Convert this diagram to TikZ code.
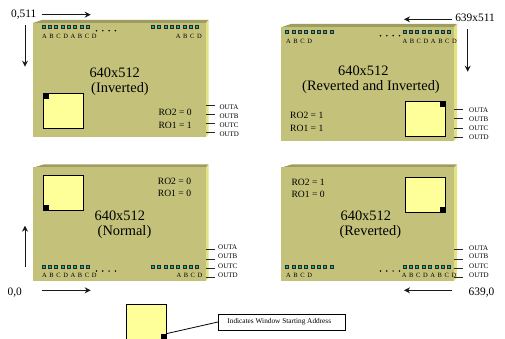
\documentclass[tikz,border=0pt]{standalone}
\usepackage{fontspec}
\setmainfont{Liberation Serif}
\usetikzlibrary{arrows.meta,positioning}

\definecolor{boardc}{HTML}{C4C27A}
\definecolor{topc}{HTML}{9E9C60}
\definecolor{sidec}{HTML}{E2E284}
\definecolor{winc}{HTML}{FFFF99}
\definecolor{padc}{HTML}{1FB595}

\newcommand{\letfont}{\fontsize{6.5}{7}\selectfont\spaceskip 2.6pt\relax}
% row of eight pads, name prefix, first x, y
\newcommand{\padrow}[3]{%
  \foreach \i in {0,...,7}
    \node[padb] (#1\i) at ({#2+6.34*\i},#3) {};}
% four dots, first x, y
\newcommand{\dotrow}[2]{%
  \foreach \i in {0,...,3}
    \fill ({#1+6.3*\i},#2) circle (0.85);}

\begin{document}
\begin{tikzpicture}[
  x=1pt, y=-1pt,
  board/.style={fill=boardc, minimum width=173pt, minimum height=114pt, inner sep=0pt},
  win/.style={draw=black, line width=0.8pt, fill=winc, minimum width=40pt,
              minimum height=35pt, inner sep=0pt},
  winmark/.style={fill=black, minimum size=5.5pt, inner sep=0pt},
  padb/.style={draw=black!85, fill=padc, line width=0.8pt, minimum size=3pt, inner sep=0pt},
  title/.style={font=\fontsize{14.4}{16}\selectfont, text=black, inner sep=0pt},
  rolab/.style={font=\fontsize{9.6}{11}\selectfont, text=black, anchor=west, inner sep=0pt},
  outlab/.style={font=\fontsize{7}{8}\selectfont, text=black, anchor=west, inner sep=0pt},
  letlab/.style={font=\letfont, text=black, anchor=west, inner sep=0pt},
  corner/.style={font=\fontsize{11.4}{13}\selectfont, text=black, inner sep=0pt},
  pin/.style={line width=0.8pt, black!85},
  ar/.style={-{Stealth[length=6pt,width=6pt]}, line width=1pt, black!90}
]
\useasboundingbox (0,0) rectangle (505,339);

% inverted
\fill[topc] (33,23) -- (42,20) -- (208.5,20) -- (206,23) -- cycle;
\fill[sidec] (206,23) -- (208.5,20) -- (208.5,134) -- (206,137) -- cycle;
\node[board] (inv) at (119.5,80) {};
\node[win] (invwin) at (63.2,111.2) {};
\node[winmark, anchor=north west] (invmark) at (invwin.north west) {};
\padrow{inva}{43.5}{27}
\padrow{invb}{153}{27}
\dotrow{96.5}{30.7}
\node[letlab] (invl) at (42,36.7) {A B C D A B C D};
\node[letlab] (invr) at (175.7,36.7) {A B C D};
\node[title] (invt) at (114.7,73) {640x512};
\node[title] (invs) at (120,89) {(Inverted)};
\node[rolab] (invro2) at (158.3,112) {RO2 = 0};
\node[rolab] (invro1) at (158.3,125) {RO1 = 1};

% reverted and inverted
\fill[topc] (281,27.3) -- (291,24) -- (457,24) -- (454,27.3) -- cycle;
\fill[sidec] (454,27.3) -- (457,24) -- (457,138) -- (454,140.7) -- cycle;
\node[board] (rvi) at (367.5,84) {};
\node[win] (rviwin) at (425,118.8) {};
\node[winmark, anchor=north east] (rvimark) at (rviwin.north east) {};
\padrow{rvia}{287.3}{32}
\padrow{rvib}{404.7}{32}
\dotrow{380.5}{35.7}
\node[letlab] (rvil) at (286,41.3) {A B C D};
\node[letlab] (rvir) at (402.3,41.3) {A B C D A B C D};
\node[title] (rvit) at (363.3,71) {640x512};
\node[title] (rvis) at (371,87.3) {(Reverted and Inverted)};
\node[rolab] (rviro2) at (290,115.7) {RO2 = 1};
\node[rolab] (rviro1) at (290,128.7) {RO1 = 1};

% normal
\fill[topc] (33,167.7) -- (44,164.3) -- (208.5,164.3) -- (206,167.7) -- cycle;
\fill[sidec] (206,167.7) -- (208.5,164.3) -- (208.5,278) -- (206,280.7) -- cycle;
\node[board] (nrm) at (119.5,224.2) {};
\node[win] (nrmwin) at (63.2,193) {};
\node[winmark, anchor=south west] (nrmmark) at (nrmwin.south west) {};
\padrow{nrma}{43.5}{266.7}
\padrow{nrmb}{153}{266.7}
\dotrow{96.5}{271}
\node[letlab] (nrml) at (42,275.3) {A B C D A B C D};
\node[letlab] (nrmr) at (176.3,275.3) {A B C D};
\node[title] (nrmt) at (119.8,215.7) {640x512};
\node[title] (nrms) at (124.5,232) {(Normal)};
\node[rolab] (nrmro2) at (157.7,181.7) {RO2 = 0};
\node[rolab] (nrmro1) at (157.7,193.7) {RO1 = 0};

% reverted
\fill[topc] (281,167.7) -- (292,164.3) -- (457,164.3) -- (454,167.7) -- cycle;
\fill[sidec] (454,167.7) -- (457,164.3) -- (457,278) -- (454,280.7) -- cycle;
\node[board] (rev) at (367.5,224.2) {};
\node[win] (revwin) at (425,194.7) {};
\node[winmark, anchor=south east] (revmark) at (revwin.south east) {};
\padrow{reva}{287.3}{266.7}
\padrow{revb}{404.7}{266.7}
\dotrow{380.5}{271}
\node[letlab] (revl) at (286,275.3) {A B C D};
\node[letlab] (revr) at (401.7,275.3) {A B C D A B C D};
\node[title] (revt) at (365.8,215.7) {640x512};
\node[title] (revs) at (370.3,232) {(Reverted)};
\node[rolab] (revro2) at (291.3,182.7) {RO2 = 1};
\node[rolab] (revro1) at (291.3,194.7) {RO1 = 0};

% output labels
\node[outlab] (inva1) at (219.3,107.3) {OUTA};
\node[outlab] (invb1) at (219.3,116.7) {OUTB};
\node[outlab] (invc1) at (219.3,125.7) {OUTC};
\node[outlab] (invd1) at (219.3,134.3) {OUTD};
\node[outlab] (rvia1) at (469,110.7) {OUTA};
\node[outlab] (rvib1) at (469,119.7) {OUTB};
\node[outlab] (rvic1) at (469,128.7) {OUTC};
\node[outlab] (rvid1) at (469,137.7) {OUTD};
\node[outlab] (nrma1) at (218,247.7) {OUTA};
\node[outlab] (nrmb1) at (218,256.3) {OUTB};
\node[outlab] (nrmc1) at (218,266.3) {OUTC};
\node[outlab] (nrmd1) at (218,275.7) {OUTD};
\node[outlab] (reva1) at (469,248.7) {OUTA};
\node[outlab] (revb1) at (469,256.3) {OUTB};
\node[outlab] (revc1) at (469,266.3) {OUTC};
\node[outlab] (revd1) at (469,275.7) {OUTD};

\draw[pin] (206,105) -- (215,105);
\draw[pin] (206,114.3) -- (215,114.3);
\draw[pin] (206,123.3) -- (215,123.3);
\draw[pin] (206,132.7) -- (215,132.7);
\draw[pin] (454,109.3) -- (463,109.3);
\draw[pin] (454,118.3) -- (463,118.3);
\draw[pin] (454,128) -- (463,128);
\draw[pin] (454,137) -- (463,137);
\draw[pin] (206,249.7) -- (215,249.7);
\draw[pin] (206,259) -- (215,259);
\draw[pin] (206,268) -- (215,268);
\draw[pin] (206,277.3) -- (215,277.3);
\draw[pin] (454,249.7) -- (463,249.7);
\draw[pin] (454,259) -- (463,259);
\draw[pin] (454,268) -- (463,268);
\draw[pin] (454,277.3) -- (463,277.3);

% corners
\node[corner] (c0511) at (23.8,15) {0,511};
\node[corner] (c639511) at (475,17.3) {639x511};
\node[corner] (c00) at (14.8,293) {0,0};
\node[corner] (c6390) at (481.5,293) {639,0};

\coordinate (a1s) at (41.7,14.7);   \coordinate (a1e) at (90.7,14.7);
\coordinate (a2s) at (25,25);       \coordinate (a2e) at (25,66.7);
\coordinate (a3s) at (452.3,19.3);  \coordinate (a3e) at (404,19.3);
\coordinate (a4s) at (467.7,29.3);  \coordinate (a4e) at (467.7,71.7);
\coordinate (a5s) at (25,267.3);    \coordinate (a5e) at (25,225.7);
\coordinate (a6s) at (41.7,290.3);  \coordinate (a6e) at (90.7,290.3);
\coordinate (a7s) at (452.3,290.3); \coordinate (a7e) at (404,290.3);
\draw[ar] (a1s) -- (a1e);
\draw[ar] (a2s) -- (a2e);
\draw[ar] (a3s) -- (a3e);
\draw[ar] (a4s) -- (a4e);
\draw[ar] (a5s) -- (a5e);
\draw[ar] (a6s) -- (a6e);
\draw[ar] (a7s) -- (a7e);

% legend
\node[win] (keywin) at (146.7,321.5) {};
\node[winmark, anchor=south east] (keymark) at (keywin.south east) {};
\node[draw=black, line width=0.8pt, minimum width=127pt, minimum height=16pt, inner sep=0pt,
      font=\fontsize{7.3}{8}\selectfont] (keybox) at (281.8,322) {Indicates Window Starting Address\hspace*{5pt}};
\draw[line width=0.8pt] (keymark.north east) -- (keybox.west);
\end{tikzpicture}
\end{document}
